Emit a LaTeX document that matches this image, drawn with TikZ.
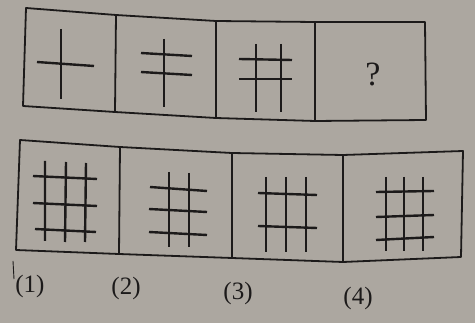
\documentclass[tikz,border=0pt]{standalone}
\usepackage{fontspec}
\setmainfont{Liberation Serif}
\usepackage{tikz}
\definecolor{paper}{RGB}{172,167,160}
\definecolor{ink}{RGB}{28,26,26}
\begin{document}
\begin{tikzpicture}[x=1pt,y=-1pt,
  frame/.style={draw=ink,line width=1.8pt,line join=round},
  stroke/.style={draw=ink,line width=2.4pt},
  lbl/.style={text=ink,font=\fontsize{25}{25}\selectfont,inner sep=0pt}]
\fill[paper] (0,0) rectangle (475,323);
\useasboundingbox (0,0) rectangle (475,323);
% ---- top row frame
\coordinate (t0) at (26,8);  \coordinate (t1) at (116,15); \coordinate (t2) at (216,21);
\coordinate (t3) at (315,22); \coordinate (t4) at (425,22);
\coordinate (b0) at (23,106); \coordinate (b1) at (115,112); \coordinate (b2) at (216,118);
\coordinate (b3) at (315,121); \coordinate (b4) at (426,120);
\draw[frame] (t0)--(t1)--(t2)--(t3)--(t4)--(b4)--(b3)--(b2)--(b1)--(b0)--cycle;
\draw[frame] (t1)--(b1) (t2)--(b2) (t3)--(b3);
% cell 1
\draw[stroke] (61,29)--(61,99);
\draw[stroke] (37,62)--(94,66);
% cell 2
\draw[stroke] (164,39)--(164,107);
\draw[stroke] (141,53)--(192,56);
\draw[stroke] (141,72)--(192,75);
% cell 3
\draw[stroke] (256,44)--(256,112);
\draw[stroke] (281,44)--(281,112);
\draw[stroke] (239,59)--(292,60);
\draw[stroke] (239,79)--(292,79);
\node[lbl,font=\fontsize{34}{34}\selectfont] (q) at (373,74) {?};
% ---- bottom row frame
\coordinate (u0) at (20,140); \coordinate (u1) at (120,147); \coordinate (u2) at (232,153);
\coordinate (u3) at (343,155); \coordinate (u4) at (463,151);
\coordinate (v0) at (16,250); \coordinate (v1) at (119,254); \coordinate (v2) at (232,258);
\coordinate (v3) at (343,262); \coordinate (v4) at (461,257);
\draw[frame] (u0)--(u1)--(u2)--(u3)--(u4)--(v4)--(v3)--(v2)--(v1)--(v0)--cycle;
\draw[frame] (u1)--(v1) (u2)--(v2) (u3)--(v3);
% option 1
\draw[stroke] (45,161)--(45,241) (66,162)--(65,242) (86,163)--(85,242);
\draw[stroke] (33,176)--(97,179) (33,203)--(97,206) (35,229)--(96,232);
% option 2
\draw[stroke] (169,172)--(169,247) (189,173)--(189,247);
\draw[stroke] (150,187)--(207,191) (149,209)--(207,212) (149,232)--(207,235);
% option 3
\draw[stroke] (266,177)--(266,252) (286,177)--(286,252) (306,177)--(306,252);
\draw[stroke] (258,193)--(317,195) (258,226)--(317,228);
% option 4
\draw[stroke] (386,177)--(386,251) (404,177)--(404,251) (423,177)--(423,251);
\draw[stroke] (376,192)--(434,191) (376,217)--(434,215) (376,240)--(434,237);
% small stray mark
\draw[ink,line width=0.9pt] (13,261)--(14,279);
% labels
\node[lbl] (l1) at (30,286) {(1)};
\node[lbl] (l2) at (126,288) {(2)};
\node[lbl] (l3) at (238,293) {(3)};
\node[lbl] (l4) at (358,298) {(4)};
\end{tikzpicture}
\end{document}
